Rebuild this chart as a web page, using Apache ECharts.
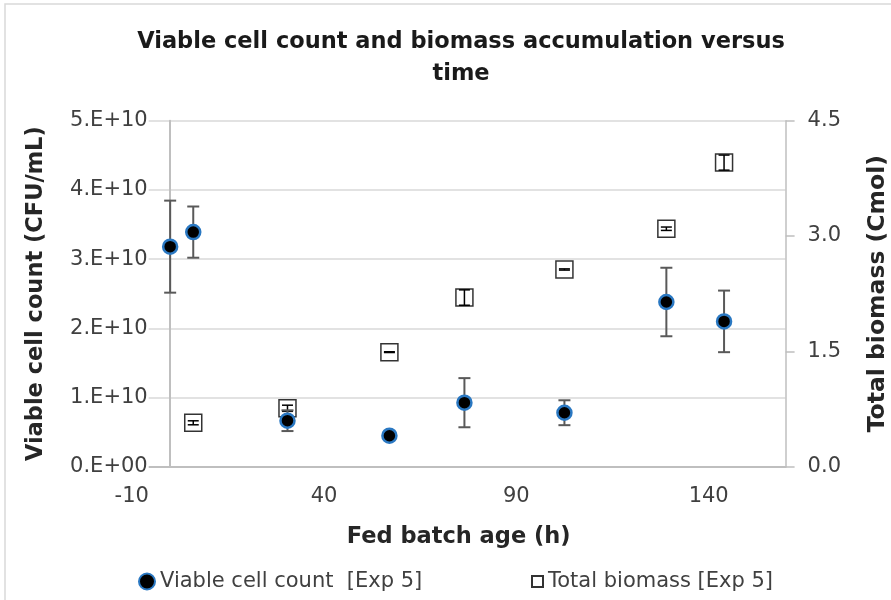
<!DOCTYPE html>
<html>
<head>
<meta charset="utf-8">
<script src="https://cdn.jsdelivr.net/npm/echarts@6/dist/echarts.min.js"></script>
<style>
html,body{margin:0;padding:0;background:#fff;}
#chart{width:891px;height:600px;}
</style>
</head>
<body>
<div id="chart"></div>
<script>
// ---- data ----
const hoursViable = [0, 6, 30.5, 57, 76.5, 102.5, 129, 144];
const viableCount = [3.18e10, 3.39e10, 0.665e10, 0.448e10, 0.925e10, 0.78e10, 2.38e10, 2.10e10];
const viableErr   = [0.665e10, 0.37e10, 0.15e10, 0.03e10, 0.355e10, 0.18e10, 0.495e10, 0.445e10];

const hoursBiomass = [6, 30.5, 57, 76.5, 102.5, 129, 144];
const totalBiomass = [0.571, 0.76, 1.49, 2.20, 2.565, 3.095, 3.955];
const biomassErr   = [0.026, 0.04, 0.005, 0.10, 0.008, 0.022, 0.098];

const xTicks = [-10, 40, 90, 140];
const xMax = 160;
const yLeftTicks = [0, 1e10, 2e10, 3e10, 4e10, 5e10];
const yRightTicks = [0, 1.5, 3.0, 4.5];

const titleText = 'Viable cell count and biomass accumulation versus\ntime';
const xName = 'Fed batch age (h)';
const yLeftName = 'Viable cell count (CFU/mL)';
const yRightName = 'Total biomass (Cmol)';
const seriesViableName = 'Viable cell count  [Exp 5]';
const seriesBiomassName = 'Total biomass [Exp 5]';

// ---- helpers ----
function sci(v) {
  if (v === 0) return '0.E+00';
  const e = Math.floor(Math.log10(Math.abs(v)) + 1e-9);
  const m = Math.round(v / Math.pow(10, e));
  return m + '.E+' + String(e).padStart(2, '0');
}
function errRender(cap, color, width) {
  return function (params, api) {
    const x = api.value(0), y = api.value(1), e = api.value(2);
    const t = api.coord([x, y + e]);
    const b = api.coord([x, y - e]);
    const h = cap / 2;
    const st = { stroke: color, lineWidth: width };
    return {
      type: 'group',
      children: [
        { type: 'line', shape: { x1: t[0], y1: t[1], x2: b[0], y2: b[1] }, style: st },
        { type: 'line', shape: { x1: t[0] - h, y1: t[1], x2: t[0] + h, y2: t[1] }, style: st },
        { type: 'line', shape: { x1: b[0] - h, y1: b[1], x2: b[0] + h, y2: b[1] }, style: st }
      ]
    };
  };
}

const FONT = 'DejaVu Sans';
const tickColor = '#404040';
const nameColor = '#262626';

const chart = echarts.init(document.getElementById('chart'), null, { renderer: 'canvas' });

const option = {
  animation: false,
  backgroundColor: '#fff',
  textStyle: { fontFamily: FONT },
  graphic: [{
    type: 'rect', silent: true, z: -10,
    shape: { x: 5, y: 4, width: 900, height: 620 },
    style: { fill: 'none', stroke: '#d9d9d9', lineWidth: 1.5 }
  }],
  title: {
    text: titleText,
    left: 456, top: 21, textAlign: 'center',
    textStyle: { fontFamily: FONT, fontWeight: 'bold', fontSize: 22.5, color: '#1a1a1a', lineHeight: 32 }
  },
  legend: [{
    data: [{ name: seriesViableName, icon: 'circle' }],
    left: 138, top: 571, padding: 0,
    itemWidth: 16, itemHeight: 16,
    textStyle: { fontFamily: FONT, fontSize: 21, color: tickColor }
  }, {
    data: [{ name: seriesBiomassName, icon: 'rect' }],
    left: 531, top: 571, padding: 0,
    itemWidth: 11, itemHeight: 11,
    textStyle: { fontFamily: FONT, fontSize: 21, color: tickColor }
  }],
  grid: { left: 131.7, right: 105.4, top: 120.7, bottom: 133.3, containLabel: false, outerBoundsMode: 'none' },
  xAxis: {
    type: 'value',
    min: xTicks[0], max: xMax, interval: xTicks[1] - xTicks[0],
    name: xName, nameLocation: 'middle', nameGap: 59,
    nameTextStyle: { fontFamily: FONT, fontWeight: 'bold', fontSize: 22.5, color: nameColor },
    axisLine: { onZero: false, lineStyle: { color: '#bfbfbf', width: 2 } },
    axisTick: { show: false },
    splitLine: { show: false },
    axisLabel: { showMaxLabel: false, margin: 19, fontFamily: FONT, fontSize: 21, color: tickColor }
  },
  yAxis: [{
    type: 'value',
    min: yLeftTicks[0], max: yLeftTicks[yLeftTicks.length - 1], interval: yLeftTicks[1] - yLeftTicks[0],
    position: 'left',
    name: yLeftName, nameLocation: 'middle', nameGap: 84,
    nameTextStyle: { fontFamily: FONT, fontWeight: 'bold', fontSize: 22.5, color: nameColor },
    axisLine: { show: true, onZero: true, lineStyle: { color: '#bfbfbf', width: 2 } },
    axisTick: { show: false },
    splitLine: { show: true, lineStyle: { color: '#d9d9d9', width: 1.5 } },
    axisLabel: {
      formatter: sci, margin: -17, fontFamily: FONT, fontSize: 21, color: tickColor,
      backgroundColor: '#fff', padding: [0, 1, 0, 2]
    }
  }, {
    type: 'value',
    min: yRightTicks[0], max: yRightTicks[yRightTicks.length - 1], interval: yRightTicks[1] - yRightTicks[0],
    position: 'right',
    name: yRightName, nameLocation: 'middle', nameGap: 80,
    nameTextStyle: { fontFamily: FONT, fontWeight: 'bold', fontSize: 23.5, color: nameColor },
    axisLine: { show: true, onZero: false, lineStyle: { color: '#bfbfbf', width: 1.5 } },
    axisTick: { show: true, inside: false, length: 9, lineStyle: { color: '#bfbfbf', width: 1.5 } },
    splitLine: { show: false },
    axisLabel: { formatter: v => v.toFixed(1), margin: 22, fontFamily: FONT, fontSize: 21, color: tickColor }
  }],
  series: [{
    name: seriesBiomassName,
    type: 'scatter',
    yAxisIndex: 1,
    symbol: 'rect', symbolSize: 17,
    itemStyle: { color: '#fff', borderColor: '#000', borderWidth: 1.5 },
    data: hoursBiomass.map((h, i) => [h, totalBiomass[i]]),
    z: 2
  }, {
    name: 'biomassErr',
    type: 'custom',
    yAxisIndex: 1,
    renderItem: errRender(11, '#000', 1.5),
    data: hoursBiomass.map((h, i) => [h, totalBiomass[i], biomassErr[i]]),
    z: 3, silent: true
  }, {
    name: 'viableErr',
    type: 'custom',
    yAxisIndex: 0,
    renderItem: errRender(12, '#595959', 2),
    data: hoursViable.map((h, i) => [h, viableCount[i], viableErr[i]]),
    z: 4, silent: true
  }, {
    name: seriesViableName,
    type: 'scatter',
    yAxisIndex: 0,
    symbol: 'circle', symbolSize: 14,
    itemStyle: { color: '#000', borderColor: '#2a78c2', borderWidth: 2.5, opacity: 1 },
    data: hoursViable.map((h, i) => [h, viableCount[i]]),
    z: 5
  }]
};
chart.setOption(option);
</script>
</body>
</html>
